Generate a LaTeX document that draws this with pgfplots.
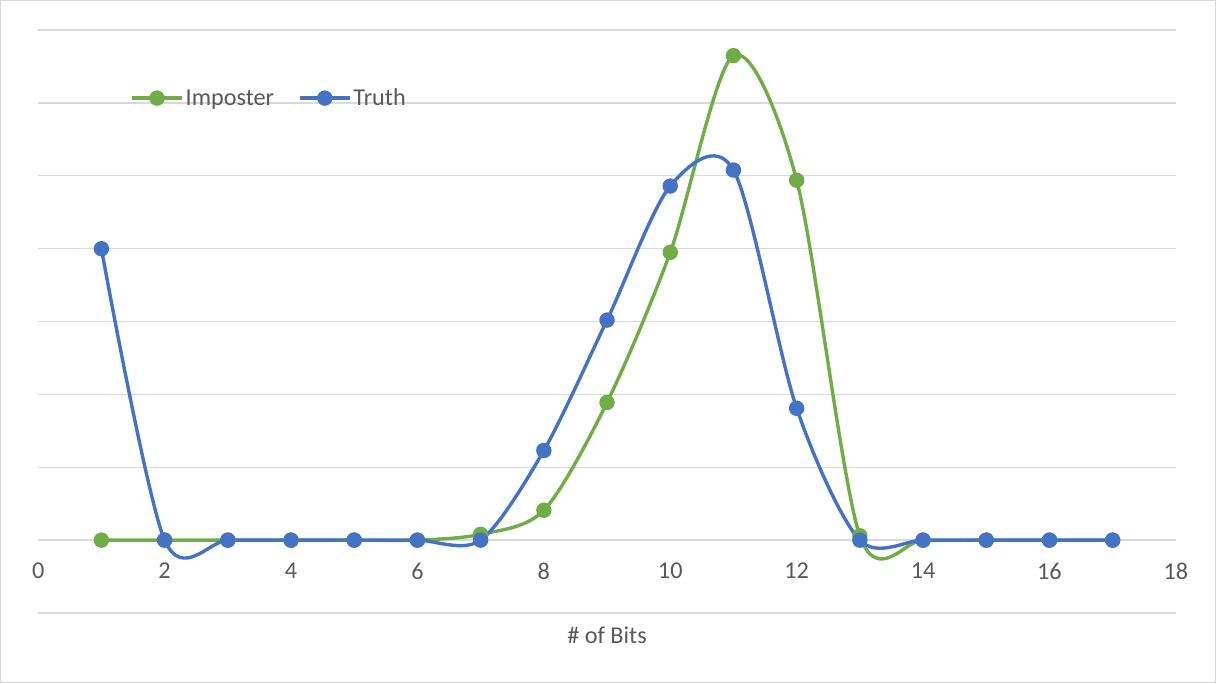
\documentclass[border=0pt]{standalone}
\usepackage{pgfplots}
\pgfplotsset{compat=1.18}
\usepackage{fontspec}
\setmainfont{Carlito}
\definecolor{impgreen}{HTML}{70AD47}
\definecolor{truthblue}{HTML}{4472C4}
\definecolor{gridgray}{HTML}{D9D9D9}
\definecolor{txtgray}{HTML}{595959}
\begin{document}
\begin{tikzpicture}
\begin{axis}[
  scale only axis,
  width=1138pt, height=583pt,
  xmin=0, xmax=18, ymin=-1, ymax=7,
  axis line style={draw=none},
  xtick={0,2,...,18},
  ytick={-1,0,...,7},
  yticklabels={},
  major tick length=0pt,
  ymajorgrids,
  grid style={gridgray, line width=1.3pt},
  /pgf/number format/assume math mode=true,
  tick label style={font=\fontsize{24.2}{29}\selectfont, text=txtgray},
  xticklabel style={anchor=north, inner sep=0pt, yshift=50pt},
  xlabel={\# of Bits},
  xlabel style={at={(rel axis cs:0.5,-0.0377)}, anchor=center, font=\fontsize{24.2}{29}\selectfont, text=txtgray},
  legend style={at={(rel axis cs:0.0808,0.8834)}, anchor=west, draw=none, fill=none, inner sep=0pt,
    font=\fontsize{24.2}{29}\selectfont, text=txtgray, legend columns=2,
    /tikz/every even column/.append style={column sep=22pt}},
  legend image code/.code={\draw[mark repeat=2,mark phase=2] plot coordinates {(0pt,0pt) (25pt,0pt) (50pt,0pt)};},
  clip=false,
]
\addplot[impgreen, line width=3.4pt, smooth, tension=0.5, mark=*, mark size=6pt, mark options={solid}] coordinates {
(1,0) (2,0) (3,0) (4,0) (5,0) (6,0) (7,0.08) (8,0.41) (9,1.89) (10,3.95) (11,6.65) (12,4.94) (13,0.06) (14,0) (15,0) (16,0) (17,0)
};
\addlegendentry{Imposter}
\addplot[truthblue, line width=3.4pt, smooth, tension=0.5, mark=*, mark size=6pt, mark options={solid}] coordinates {
(1,4.0) (2,0) (3,0) (4,0) (5,0) (6,0) (7,0) (8,1.23) (9,3.02) (10,4.86) (11,5.08) (12,1.81) (13,0) (14,0) (15,0) (16,0) (17,0)
};
\addlegendentry{Truth}
\coordinate (fbl) at (rel axis cs:-0.033,-0.1192);
\coordinate (ftr) at (rel axis cs:1.0347,1.0506);
\end{axis}
\draw[gridgray, line width=1.3pt] (fbl) rectangle (ftr);
\end{tikzpicture}
\end{document}
